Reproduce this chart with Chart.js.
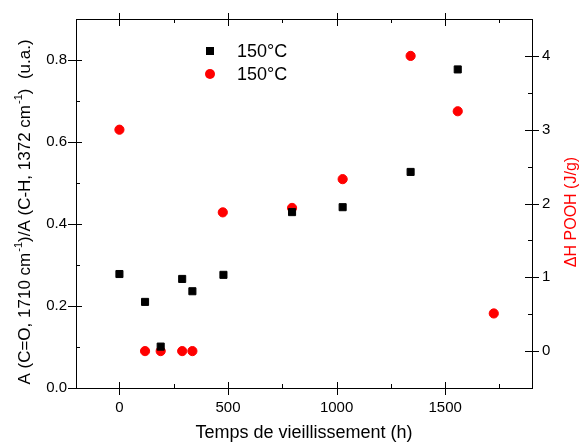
<!DOCTYPE html>
<html>
<head>
<meta charset="utf-8">
<script src="https://cdn.jsdelivr.net/npm/chart.js@4"></script>
<style>
  html, body { margin: 0; padding: 0; background: #fff; }
  #wrap { width: 581px; height: 444px; }
</style>
</head>
<body>
<div id="wrap"><canvas id="chart"></canvas></div>
<script>
// carbonyl ratio (left axis)
const ratioHours = [0, 118, 190, 289, 336, 479, 795, 1028, 1341, 1558]
const ratioValues = [0.278, 0.210, 0.101, 0.266, 0.236, 0.276, 0.429, 0.441, 0.527, 0.777]

// DSC POOH enthalpy (right axis)
const pOOHHours = [0, 118, 190, 289, 336, 476, 795, 1028, 1341, 1558, 1724]
const pOOHValues = [3.0, 0.0, 0.0, 0.0, 0.0, 1.88, 1.94, 2.33, 4.0, 3.25, 0.51]

const seriesLabels = ["150°C", "150°C"]

const xTicks = [0, 500, 1000, 1500]
const yTicks = [0, 0.2, 0.4, 0.6, 0.8]
const y2Ticks = [0, 1, 2, 3, 4]

const xTitle = "Temps de vieillissement (h)"
// left title in pieces, [text, superscript?]
const yTitleParts = [["A (C=O, 1710 cm", false], ["-1", true], [")/A (C-H, 1372 cm", false], ["-1", true], [")  (u.a.)", false]]
const y2Title = "\u0394H POOH (J/g)"

const fontFamily = "'Liberation Sans', Arial, sans-serif"

function toPoints(xs, ys) {
    return xs.map((x, i) => ({ x: x, y: ys[i] }))
}

function setTicks(values) {
    return scale => { scale.ticks = values.map(v => ({ value: v })) }
}

// ticks crossing the frame, minor ticks, top border, legend, y titles
const framePlugin = {
    id: "frame",
    afterDraw(chart) {
        const c = chart.ctx
        const a = chart.chartArea
        const sx = chart.scales.x
        const sy = chart.scales.y
        const sy2 = chart.scales.y2
        c.save()
        c.strokeStyle = "#000"
        c.lineWidth = 1
        c.beginPath()
        c.moveTo(a.left, a.top + 0.5)
        c.lineTo(a.right, a.top + 0.5)

        sx.ticks.forEach(t => {
            const p = Math.round(sx.getPixelForValue(t.value)) + 0.5
            c.moveTo(p, a.bottom - 6); c.lineTo(p, a.bottom + 7)
            c.moveTo(p, a.top - 6); c.lineTo(p, a.top + 7)
        })
        for (let m = -250; m < sx.max; m += 500) {
            if (m <= sx.min) continue
            const q = Math.round(sx.getPixelForValue(m)) + 0.5
            c.moveTo(q, a.bottom - 4); c.lineTo(q, a.bottom)
            c.moveTo(q, a.top); c.lineTo(q, a.top + 4)
        }
        sy.ticks.forEach(t => {
            const p = Math.round(sy.getPixelForValue(t.value)) + 0.5
            c.moveTo(a.left - 8, p); c.lineTo(a.left + 6, p)
            const q = Math.round(sy.getPixelForValue(t.value + 0.1)) + 0.5
            c.moveTo(a.left, q); c.lineTo(a.left + 4, q)
        })
        sy2.ticks.forEach(t => {
            const p = Math.round(sy2.getPixelForValue(t.value)) + 0.5
            c.moveTo(a.right - 7, p); c.lineTo(a.right + 7, p)
            const q = Math.round(sy2.getPixelForValue(t.value - 0.5)) + 0.5
            c.moveTo(a.right - 4, q); c.lineTo(a.right, q)
        })
        c.stroke()

        // legend
        const lx = a.left + 134
        const ly = a.top + 32
        c.font = "18px " + fontFamily
        c.textBaseline = "middle"
        c.textAlign = "left"
        chart.data.datasets.forEach((ds, i) => {
            const y = ly + i * 23
            c.fillStyle = ds.backgroundColor
            c.beginPath()
            if (ds.pointStyle === "rect") {
                c.rect(lx - 4, y - 4, 8, 8)
            } else {
                c.arc(lx, y, 5, 0, Math.PI * 2)
            }
            c.fill()
            c.fillStyle = "#000"
            c.fillText(ds.label, lx + 27, y + 1)
        })

        // left title, reads bottom to top
        const big = "17px " + fontFamily
        const small = "11px " + fontFamily
        let total = 0
        yTitleParts.forEach(p => {
            c.font = p[1] ? small : big
            total += c.measureText(p[0]).width + (p[1] ? 1 : 0)
        })
        c.save()
        c.translate(25, 212)
        c.rotate(-Math.PI / 2)
        c.fillStyle = "#000"
        c.textBaseline = "middle"
        let x = -total / 2
        yTitleParts.forEach(p => {
            c.font = p[1] ? small : big
            c.fillText(p[0], x + (p[1] ? 1 : 0), p[1] ? -6 : 0)
            x += c.measureText(p[0]).width + (p[1] ? 1 : 0)
        })
        c.restore()

        // right title, red, reads bottom to top
        c.save()
        c.translate(572, 212)
        c.rotate(-Math.PI / 2)
        c.font = "16px " + fontFamily
        c.fillStyle = "#ff0000"
        c.textAlign = "center"
        c.textBaseline = "middle"
        c.fillText(y2Title, 0, 0)
        c.restore()

        c.restore()
    }
}

const ctx = document.getElementById("chart")

let config = {
    type: "scatter",
    data: {
        datasets: [{
            label: seriesLabels[0],
            data: toPoints(ratioHours, ratioValues),
            yAxisID: "y",
            pointStyle: "rect",
            pointRadius: 5,
            borderWidth: 1,
            backgroundColor: "#000000",
            borderColor: "#000000"
        }, {
            label: seriesLabels[1],
            data: toPoints(pOOHHours, pOOHValues),
            yAxisID: "y2",
            pointStyle: "circle",
            pointRadius: 4.6,
            borderWidth: 1,
            backgroundColor: "#ff0000",
            borderColor: "#ff0000"
        }]
    },
    options: {
        responsive: true,
        maintainAspectRatio: false,
        animation: false,
        layout: { padding: { top: 18, left: 0, right: 0, bottom: 0 } },
        plugins: {
            legend: { display: false },
            tooltip: { enabled: false }
        },
        scales: {
            x: {
                type: "linear",
                position: "bottom",
                min: -200,
                max: 1900,
                afterBuildTicks: setTicks(xTicks),
                afterFit: s => { s.height = 56 },
                grid: { display: false, drawTicks: false },
                border: { display: true, color: "#000", width: 1 },
                ticks: {
                    padding: 11,
                    color: "#000",
                    font: { family: fontFamily, size: 15 },
                    callback: v => String(v)
                },
                title: {
                    display: true,
                    text: xTitle,
                    color: "#000",
                    padding: { top: 0, bottom: 0 },
                    font: { family: fontFamily, size: 18 }
                }
            },
            y: {
                type: "linear",
                position: "left",
                min: 0,
                max: 0.9,
                afterBuildTicks: setTicks(yTicks),
                afterFit: s => { s.width = 76 },
                grid: { display: false, drawTicks: false },
                border: { display: true, color: "#000", width: 1 },
                ticks: {
                    padding: 9,
                    color: "#000",
                    font: { family: fontFamily, size: 15 },
                    callback: v => v.toFixed(1)
                }
            },
            y2: {
                type: "linear",
                position: "right",
                min: -0.5,
                max: 4.5,
                afterBuildTicks: setTicks(y2Ticks),
                afterFit: s => { s.width = 49 },
                grid: { display: false, drawTicks: false },
                border: { display: true, color: "#000", width: 1 },
                ticks: {
                    padding: 10,
                    color: "#000",
                    font: { family: fontFamily, size: 15 },
                    callback: v => String(v)
                }
            }
        }
    },
    plugins: [framePlugin]
}

let myChart = new Chart(ctx, config)
</script>
</body>
</html>
